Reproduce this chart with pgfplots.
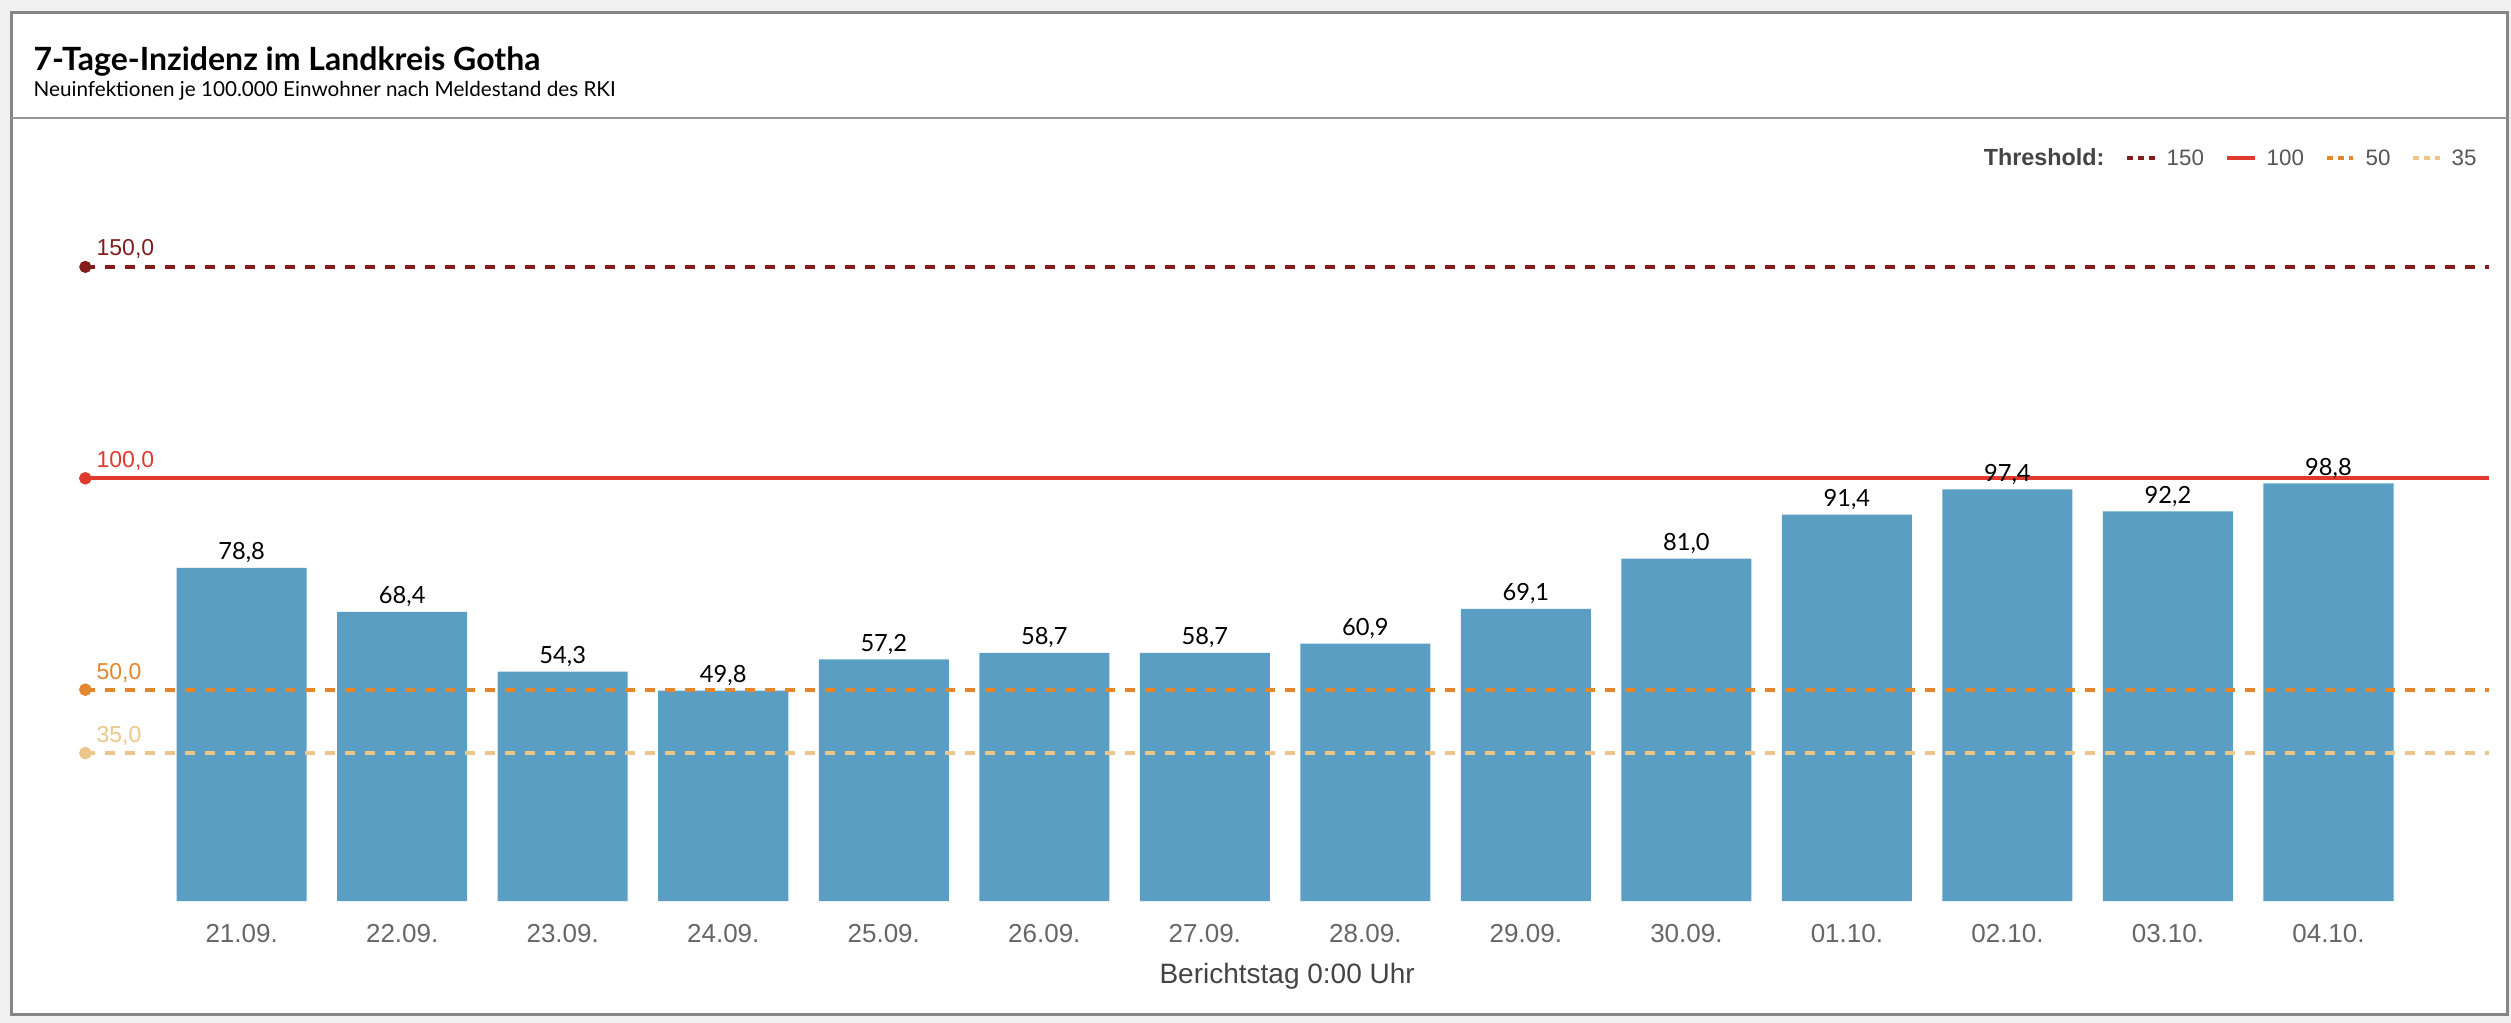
\documentclass[border=0pt]{standalone}
\usepackage{fontspec}
\setmainfont{Liberation Sans}
\newfontfamily\lato{Lato}
\usepackage{pgfplots}
\pgfplotsset{compat=1.18}
\definecolor{barblue}{HTML}{5B9EC4}
\definecolor{tA}{HTML}{831D1C}
\definecolor{tB}{HTML}{E03A2F}
\definecolor{tC}{HTML}{E3872E}
\definecolor{tD}{HTML}{EDC78A}
\definecolor{framegray}{HTML}{858585}
\definecolor{tickgray}{HTML}{666666}
\definecolor{labgray}{HTML}{444444}
\definecolor{leggray}{HTML}{555555}
\begin{document}
\begin{tikzpicture}
\useasboundingbox (0,0) rectangle (753.3pt,306.9pt);
\fill[black!6] (0,0) rectangle (753.3pt,306.9pt);
\fill[white] (3.3pt,2.4pt) rectangle (752.1pt,303pt);
\draw[framegray, line width=0.9pt] (3.3pt,2.4pt) rectangle (752.1pt,303pt);
\draw[framegray!85, line width=0.6pt] (3.3pt,271.5pt) -- (752.1pt,271.5pt);
\node[anchor=base west, inner sep=0pt] at (9.9pt,285.8pt) {\lato\bfseries\fontsize{9.6pt}{11pt}\selectfont 7-Tage-Inzidenz im Landkreis Gotha};
\node[anchor=base west, inner sep=0pt] at (9.9pt,277.9pt) {\lato\fontsize{6.2pt}{7pt}\selectfont Neuinfektionen je 100.000 Einwohner nach Meldestand des RKI};
\begin{axis}[
  at={(25.6pt,36.57pt)}, anchor=south west,
  scale only axis, width=721.1pt, height=228.3pt,
  xmin=-0.974, xmax=14, ymin=0, ymax=180,
  clip=false,
  axis line style={draw=none},
  ytick=\empty,
  xtick={0,...,13},
  xticklabels={21.09.,22.09.,23.09.,24.09.,25.09.,26.09.,27.09.,28.09.,29.09.,30.09.,01.10.,02.10.,03.10.,04.10.},
  major tick length=0pt,
  xticklabel style={font=\fontsize{7.8pt}{9pt}\selectfont, text=tickgray},
  xticklabel shift=3.3pt,
  xlabel={Berichtstag 0:00 Uhr},
  xlabel style={at={(axis description cs:0.5,0)}, anchor=base, yshift=-24.6pt, font=\fontsize{8.4pt}{10pt}\selectfont, text=labgray, inner sep=0pt},
]
\addplot[ybar, bar width=0.81, fill=barblue, draw=none,
  nodes near coords={\pgfmathprintnumber[fixed,fixed zerofill,precision=1,use comma,assume math mode=true]{\pgfplotspointmeta}},
  every node near coord/.append style={font=\lato\fontsize{7.1pt}{8pt}\selectfont, anchor=base, yshift=2.4pt, inner sep=0pt, text=black}]
coordinates {(0,78.8) (1,68.4) (2,54.3) (3,49.8) (4,57.2) (5,58.7) (6,58.7) (7,60.9) (8,69.1) (9,81.0) (10,91.4) (11,97.4) (12,92.2) (13,98.8)};
\addplot[tD, line width=1.3pt, dash pattern=on 3pt off 3pt, mark=*, mark indices={1}, mark size=1.2pt, mark options={solid}] coordinates {(-0.974,35) (14,35)};
\addplot[tC, line width=1.3pt, dash pattern=on 3pt off 3pt, mark=*, mark indices={1}, mark size=1.2pt, mark options={solid}] coordinates {(-0.974,50) (14,50)};
\addplot[tB, line width=1.3pt, mark=*, mark indices={1}, mark size=1.2pt, mark options={solid}] coordinates {(-0.974,100) (14,100)};
\addplot[tA, line width=1.2pt, dash pattern=on 3pt off 3pt, mark=*, mark indices={1}, mark size=1.2pt, mark options={solid}] coordinates {(-0.974,150) (14,150)};
\node[anchor=base west, inner sep=0pt, text=tA, font=\fontsize{6.9pt}{8pt}\selectfont, xshift=3.2pt, yshift=3.3pt] at (axis cs:-0.974,150) {150,0};
\node[anchor=base west, inner sep=0pt, text=tB, font=\fontsize{6.9pt}{8pt}\selectfont, xshift=3.2pt, yshift=3.1pt] at (axis cs:-0.974,100) {100,0};
\node[anchor=base west, inner sep=0pt, text=tC, font=\fontsize{6.9pt}{8pt}\selectfont, xshift=3.2pt, yshift=3.1pt] at (axis cs:-0.974,50) {50,0};
\node[anchor=base west, inner sep=0pt, text=tD, font=\fontsize{6.9pt}{8pt}\selectfont, xshift=3.2pt, yshift=3.1pt] at (axis cs:-0.974,35) {35,0};
\end{axis}
% legend
\node[anchor=base east, inner sep=0pt, text=labgray, font=\bfseries\fontsize{7pt}{8pt}\selectfont] at (631.5pt,257.1pt) {Threshold:};
\draw[tA, line width=1.2pt, dash pattern=on 1.8pt off 1.5pt] (638.1pt,259.5pt) -- (646.5pt,259.5pt);
\node[anchor=base west, inner sep=0pt, text=leggray, font=\fontsize{6.7pt}{8pt}\selectfont] at (649.8pt,257.1pt) {150};
\draw[tB, line width=1.2pt] (668.1pt,259.5pt) -- (676.5pt,259.5pt);
\node[anchor=base west, inner sep=0pt, text=leggray, font=\fontsize{6.7pt}{8pt}\selectfont] at (679.8pt,257.1pt) {100};
\draw[tC, line width=1.2pt, dash pattern=on 1.8pt off 1.5pt] (698.1pt,259.5pt) -- (705.9pt,259.5pt);
\node[anchor=base west, inner sep=0pt, text=leggray, font=\fontsize{6.7pt}{8pt}\selectfont] at (709.5pt,257.1pt) {50};
\draw[tD, line width=1.2pt, dash pattern=on 1.8pt off 1.5pt] (723.9pt,259.5pt) -- (732.0pt,259.5pt);
\node[anchor=base west, inner sep=0pt, text=leggray, font=\fontsize{6.7pt}{8pt}\selectfont] at (735.3pt,257.1pt) {35};
\end{tikzpicture}
\end{document}
